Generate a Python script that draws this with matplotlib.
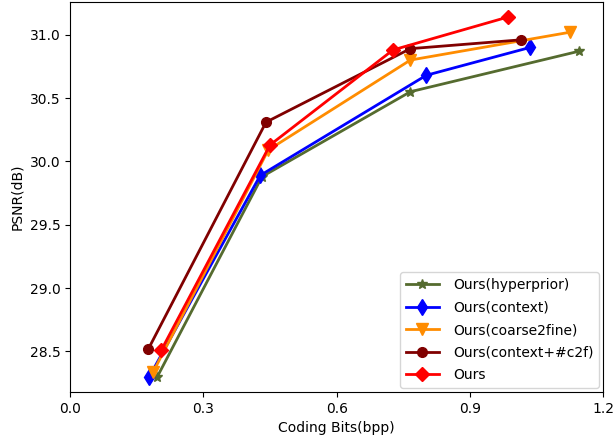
import matplotlib
matplotlib.use("Agg")
import matplotlib.pyplot as plt

hyper_x = [0.196, 0.432, 0.766, 1.146]
hyper_y = [28.30, 29.88, 30.55, 30.87]
ctx_x = [0.178, 0.428, 0.802, 1.036]
ctx_y = [28.30, 29.89, 30.68, 30.90]
c2f_x = [0.187, 0.446, 0.766, 1.126]
c2f_y = [28.34, 30.09, 30.80, 31.02]
ctxc2f_x = [0.176, 0.441, 0.766, 1.016]
ctxc2f_y = [28.52, 30.31, 30.89, 30.96]
ours_x = [0.205, 0.450, 0.727, 0.986]
ours_y = [28.51, 30.13, 30.88, 31.14]

labels = ["Ours(hyperprior)", "Ours(context)", "Ours(coarse2fine)", "Ours(context+#c2f)", "Ours"]
xticks = [0.0, 0.3, 0.6, 0.9, 1.2]
yticks = [28.5, 29.0, 29.5, 30.0, 30.5, 31.0]

fig = plt.figure(figsize=(6.16, 4.46), dpi=100)
ax = fig.add_axes([0.114, 0.121, 0.865, 0.875])

ax.plot(hyper_x, hyper_y, color='darkolivegreen', marker='*', markersize=7, lw=2, label=labels[0])
ax.plot(ctx_x, ctx_y, color='blue', marker='d', markersize=8, lw=2, label=labels[1])
ax.plot(c2f_x, c2f_y, color='darkorange', marker='v', markersize=8, lw=2, label=labels[2])
ax.plot(ctxc2f_x, ctxc2f_y, color='#800000', marker='o', markersize=7, lw=2, label=labels[3])
ax.plot(ours_x, ours_y, color='red', marker='D', markersize=7, lw=2, label=labels[4])

ax.set_xlim(0.0, 1.2)
ax.set_ylim(28.18, 31.26)
ax.set_xticks(xticks)
ax.set_xticklabels([f"{v:.1f}" for v in xticks])
ax.set_yticks(yticks)
ax.set_yticklabels([f"{v:.1f}" for v in yticks])
ax.set_xlabel("Coding Bits(bpp)")
ax.set_ylabel("PSNR(dB)")
ax.legend(loc='lower right', handlelength=2.4, handletextpad=1.0, labelspacing=0.62,
          borderaxespad=0.3)

fig.savefig("out.png", dpi=100)
